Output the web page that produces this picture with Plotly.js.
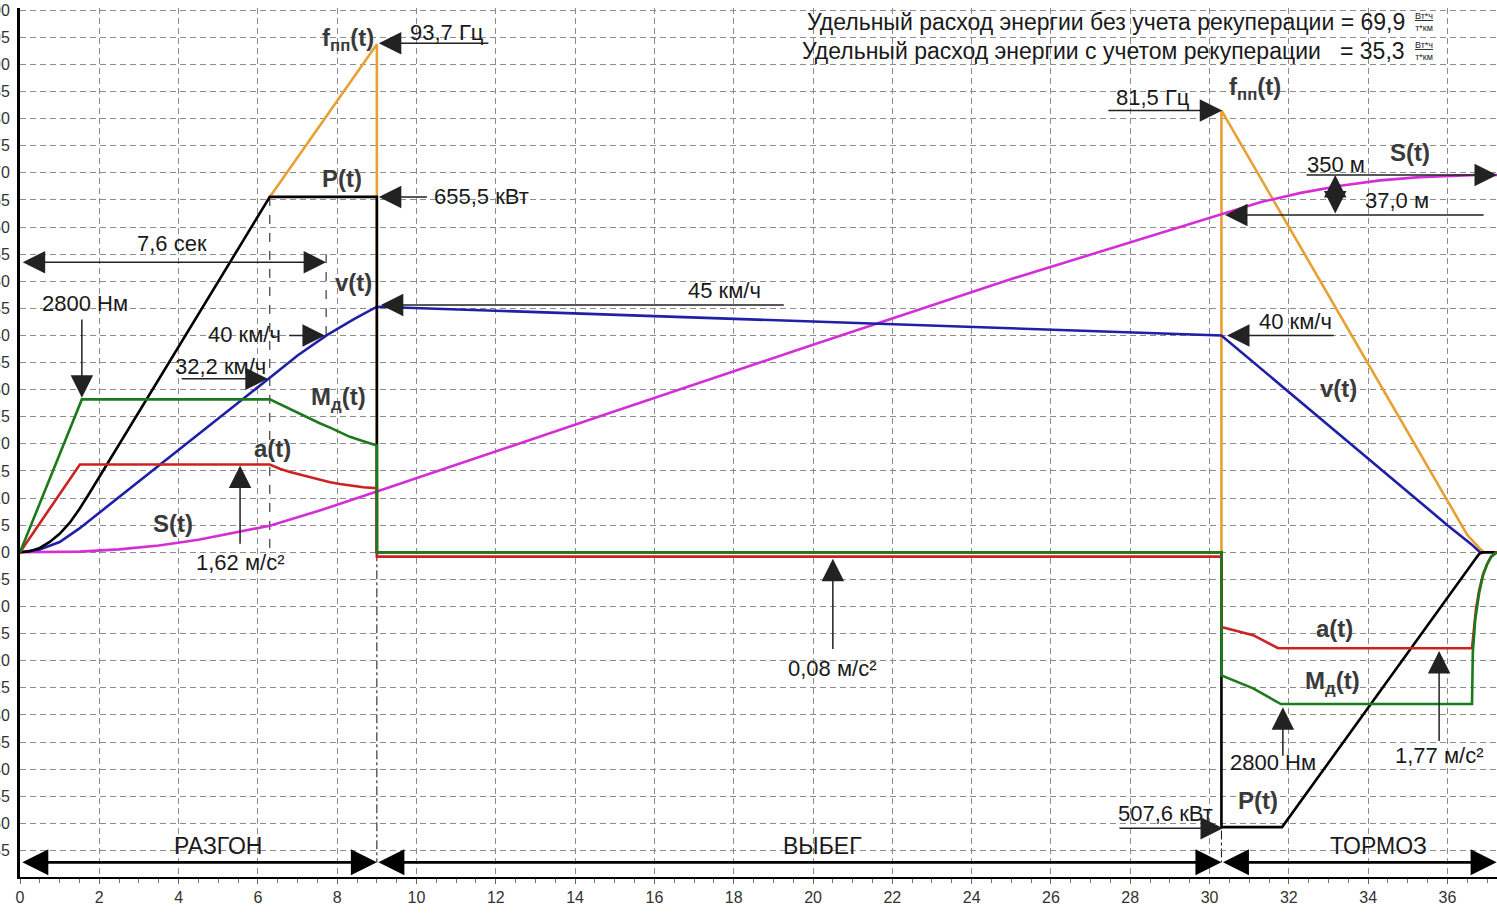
<!DOCTYPE html>
<html>
<head>
<meta charset="utf-8">
<script src="https://cdn.plot.ly/plotly-3.0.1.min.js"></script>
<style>html,body{margin:0;padding:0;background:#fff;}#chart{width:1497px;height:915px;}</style>
</head>
<body>
<div id="chart"></div>
<script>
// ---- data (units: f in Hz, P in 10 kW, v in km/h, M in 100 Nm, a in 0.1 m/s², S in 5 m) ----
const fTime = [6.3, 9, 9, 30.3, 30.3, 36, 36.5, 36.8, 36.92, 37.25];
const fVal  = [65.55, 93.7, 0, 0, 81.5, 9.6, 3.2, 0.8, 0, 0];

const pTime = [0, 0.25, 0.5, 0.75, 1, 1.25, 1.5, 1.75, 6.3, 9, 9, 30.3, 30.3, 31.83, 36.7, 36.8, 36.9, 37.25];
const pVal  = [0, 0.2, 0.8, 1.9, 3.4, 5.4, 8.0, 10.9, 65.55, 65.55, 0, 0, -50.7, -50.7, -1.3, -0.3, 0, 0];

const vTime = [0, 0.5, 1, 1.5, 6.3, 7, 7.73, 8.4, 9, 30.3, 36, 36.6, 36.82, 37.25];
const vVal  = [0, 0.5, 1.9, 4.4, 32.2, 36.3, 40, 42.9, 45.3, 40, 5, 1.5, 0, 0];

const mTime = [0, 1.56, 6.3, 6.55, 6.81, 7.06, 7.31, 7.56, 7.82, 8.07, 8.32, 8.66, 9, 9, 30.3, 30.3, 31.1, 31.8, 36.62, 36.64, 36.7, 36.8, 36.9, 37.0, 37.1, 37.25];
const mVal  = [0, 28.2, 28.2, 27.3, 26.5, 25.6, 24.7, 23.8, 23.0, 22.1, 21.3, 20.5, 19.7, 0, 0, -22.7, -25.1, -28, -28, -18.5, -12.5, -7.5, -4.2, -2.2, -0.8, 0];

const aTime = [0, 1.51, 6.3, 6.55, 6.81, 7.06, 7.31, 7.56, 7.82, 8.07, 8.32, 8.66, 9, 9, 30.3, 30.3, 31.1, 31.73, 36.62, 36.66, 36.72, 36.8, 36.9, 37.0, 37.1, 37.22, 37.25];
const aVal  = [0, 16.2, 16.2, 15.4, 14.8, 14.3, 13.8, 13.3, 12.9, 12.6, 12.3, 12.0, 11.8, -0.8, -0.8, -13.8, -15.3, -17.7, -17.7, -15, -10.5, -7, -4, -2.2, -0.9, 0, 0];

const sTime = [0, 1, 1.5, 2.5, 3.5, 4.5, 5.5, 6.3, 7.6, 9, 15, 20, 25, 30.3, 31.3, 32.3, 33.3, 34.3, 35.3, 36.75, 37.25];
const sVal  = [0, 0.04, 0.12, 0.53, 1.26, 2.3, 3.7, 4.9, 7.8, 11.2, 26.0, 38.3, 50.4, 62.4, 64.6, 66.3, 67.6, 68.6, 69.2, 69.6, 69.6];

const xTickVals = [0,2,4,6,8,10,12,14,16,18,20,22,24,26,28,30,32,34,36];

const fontFam = '"Liberation Sans", Arial, sans-serif';

function line(x, y, color, w) {
  return {x: x, y: y, type: 'scatter', mode: 'lines', line: {color: color, width: w || 2.6}, hoverinfo: 'skip', cliponaxis: true};
}

const traces = [
  line(fTime, fVal, '#E8A033'),
  line(sTime, sVal, '#D42ED4'),
  line(vTime, vVal, '#1F1FA8'),
  line(pTime, pVal, '#000000'),
  line(aTime, aVal, '#CC2222'),
  line(mTime, mVal, '#1C7A1C')
];

// ---- annotations ----
const LBL = 24, VAL = 22;
const lbl = (x, y, t) => ({x, y, xref:'x', yref:'y', text: t, showarrow:false, font:{family: fontFam, size: LBL, color:'#3a3a3a'}});
const txt = (x, y, t, size) => ({x, y, xref:'x', yref:'y', text: t, showarrow:false, font:{family: fontFam, size: size || VAL, color:'#1a1a1a'}});
const arr = (x, y, ax, ay, both) => ({x, y, ax, ay, xref:'x', yref:'y', axref:'x', ayref:'y', text:'', showarrow:true,
  arrowhead:2, arrowsize:3, arrowwidth:1.5, arrowcolor:'#222', standoff:0,
  arrowside: both ? 'end+start' : 'end', startarrowhead:2, startarrowsize:3, startstandoff:0});
const bigArr = (x, y, ax, ay) => ({x, y, ax, ay, xref:'x', yref:'y', axref:'x', ayref:'y', text:'', showarrow:true,
  arrowhead:2, arrowsize:2.0, arrowwidth:2.6, arrowcolor:'#000', standoff:0,
  arrowside:'end+start', startarrowhead:2, startarrowsize:2.0, startstandoff:0});

const annotations = [
  lbl(8.27, 94.6, '<b>f<sub>пп</sub>(t)</b>'),
  txt(10.78, 95.9, '93,7 Гц'),
  arr(9.05, 93.9, 11.85, 93.9),
  lbl(8.12, 69.0, '<b>P(t)</b>'),
  txt(11.65, 65.6, '655,5 кВт'),
  arr(9.05, 65.55, 10.3, 65.55),
  txt(3.83, 57.0, '7,6 сек'),
  arr(7.72, 53.5, 0.03, 53.5, true),
  txt(1.64, 45.9, '2800 Нм'),
  arr(1.56, 28.5, 1.56, 43.2),
  lbl(8.4, 49.8, '<b>v(t)</b>'),
  txt(17.78, 48.3, '45 км/ч'),
  arr(9.1, 45.6, 19.3, 45.6),
  txt(5.65, 40.2, '40 км/ч'),
  arr(7.69, 40.0, 6.75, 40.0),
  txt(5.05, 34.2, '32,2 км/ч'),
  arr(6.25, 32.0, 4.04, 32.0),
  lbl(8.02, 28.4, '<b>M<sub>д</sub>(t)</b>'),
  lbl(6.36, 19.2, '<b>a(t)</b>'),
  lbl(3.86, 5.35, '<b>S(t)</b>'),
  txt(5.55, -1.9, '1,62 м/с²'),
  arr(5.55, 16.0, 5.55, 1.3),
  txt(20.5, -21.4, '0,08 м/с²'),
  arr(20.5, -1.2, 20.5, -18.1),
  {x: 34.97, y: 97.8, xref:'x', yref:'y', xanchor:'right', text:'Удельный расход энергии без учета рекуперации = 69,9', showarrow:false, font:{family: fontFam, size: 23, color:'#1a1a1a'}},
  {x: 34.97, y: 92.5, xref:'x', yref:'y', xanchor:'right', text:'Удельный расход энергии с учетом рекуперации\u00a0\u00a0\u00a0= 35,3', showarrow:false, font:{family: fontFam, size: 23, color:'#1a1a1a'}},
  {x: 35.4, y: 97.8, xref:'x', yref:'y', text:'<u>Вт*ч</u><br>т*км', showarrow:false, font:{family: fontFam, size: 9, color:'#1a1a1a'}},
  {x: 35.4, y: 92.5, xref:'x', yref:'y', text:'<u>Вт*ч</u><br>т*км', showarrow:false, font:{family: fontFam, size: 9, color:'#1a1a1a'}},
  txt(28.58, 83.9, '81,5 Гц'),
  arr(30.32, 81.5, 27.41, 81.5),
  lbl(31.15, 85.6, '<b>f<sub>пп</sub>(t)</b>'),
  lbl(35.06, 73.8, '<b>S(t)</b>'),
  txt(33.2, 71.6, '350 м'),
  arr(37.25, 69.6, 32.41, 69.6),
  txt(34.72, 64.9, '37,0 м'),
  arr(33.17, 69.6, 33.17, 62.2, true),
  arr(30.39, 62.2, 36.95, 62.2),
  txt(32.16, 42.6, '40 км/ч'),
  arr(30.44, 40.0, 33.17, 40.0),
  lbl(33.24, 30.3, '<b>v(t)</b>'),
  lbl(33.14, -14.0, '<b>a(t)</b>'),
  lbl(33.09, -24.0, '<b>M<sub>д</sub>(t)</b>'),
  txt(31.6, -38.7, '2800 Нм'),
  arr(31.85, -28.6, 31.85, -37.8),
  txt(35.81, -37.5, '1,77 м/с²'),
  arr(35.79, -18.2, 35.79, -35.1),
  txt(28.88, -48.2, '507,6 кВт'),
  arr(30.34, -50.9, 27.69, -50.9),
  lbl(31.22, -45.8, '<b>P(t)</b>'),
  txt(4.99, -54.1, 'РАЗГОН', 23),
  txt(20.25, -54.1, 'ВЫБЕГ', 23),
  txt(34.25, -54.1, 'ТОРМОЗ', 23),
  bigArr(9, -57.2, 0.02, -57.2),
  bigArr(30.3, -57.2, 9, -57.2),
  bigArr(37.24, -57.2, 30.3, -57.2),
  {x: 36.55, y: -65.6, xref:'x', yref:'y', text:'t, сек', showarrow:false, font:{family: fontFam, size: 18, color:'#333'}}
];

const vline = (x, y0, y1, dash) => ({type:'line', xref:'x', yref:'y', x0:x, x1:x, y0:y0, y1:y1, line:{color:'#111', width:1, dash: dash || 'dash'}, layer:'below'});
const shapes = [
  vline(6.3, 65.55, -1.5, 'dash'),
  vline(7.72, 55.0, 39.0, 'dash'),
  vline(9, 0, -57.2, 'dashdot'),
  vline(30.3, 81.5, -57.2, 'dashdot')
];

const grid = {showgrid:true, gridcolor:'#8c8c8c', gridwidth:1, griddash:'6px,4px', zeroline:false};

const layout = {
  width: 1497, height: 915,
  margin: {l: 20, r: 0, t: 8, b: 38},
  paper_bgcolor: '#fff', plot_bgcolor: '#fff',
  showlegend: false,
  font: {family: fontFam},
  xaxis: Object.assign({}, grid, {
    range: [0, 37.25], tickvals: xTickVals, ticktext: xTickVals.map(String),
    showline: true, linecolor: '#000', linewidth: 2,
    ticks: 'outside', ticklen: 5, tickcolor: '#666',
    minor: {dtick: 0.5, tick0: 0, ticks: 'outside', ticklen: 4, tickcolor: '#777', showgrid: false},
    tickfont: {size: 16, color: '#333'}
  }),
  yaxis: Object.assign({}, grid, {
    range: [-59.9, 100.4], dtick: 5, tick0: 0,
    showline: true, linecolor: '#000', linewidth: 3,
    ticks: '', ticklabelstandoff: 4,
    tickfont: {size: 16, color: '#333'}
  }),
  annotations: annotations,
  shapes: shapes
};

Plotly.newPlot('chart', traces, layout, {displayModeBar: false, staticPlot: true});
</script>
</body>
</html>
